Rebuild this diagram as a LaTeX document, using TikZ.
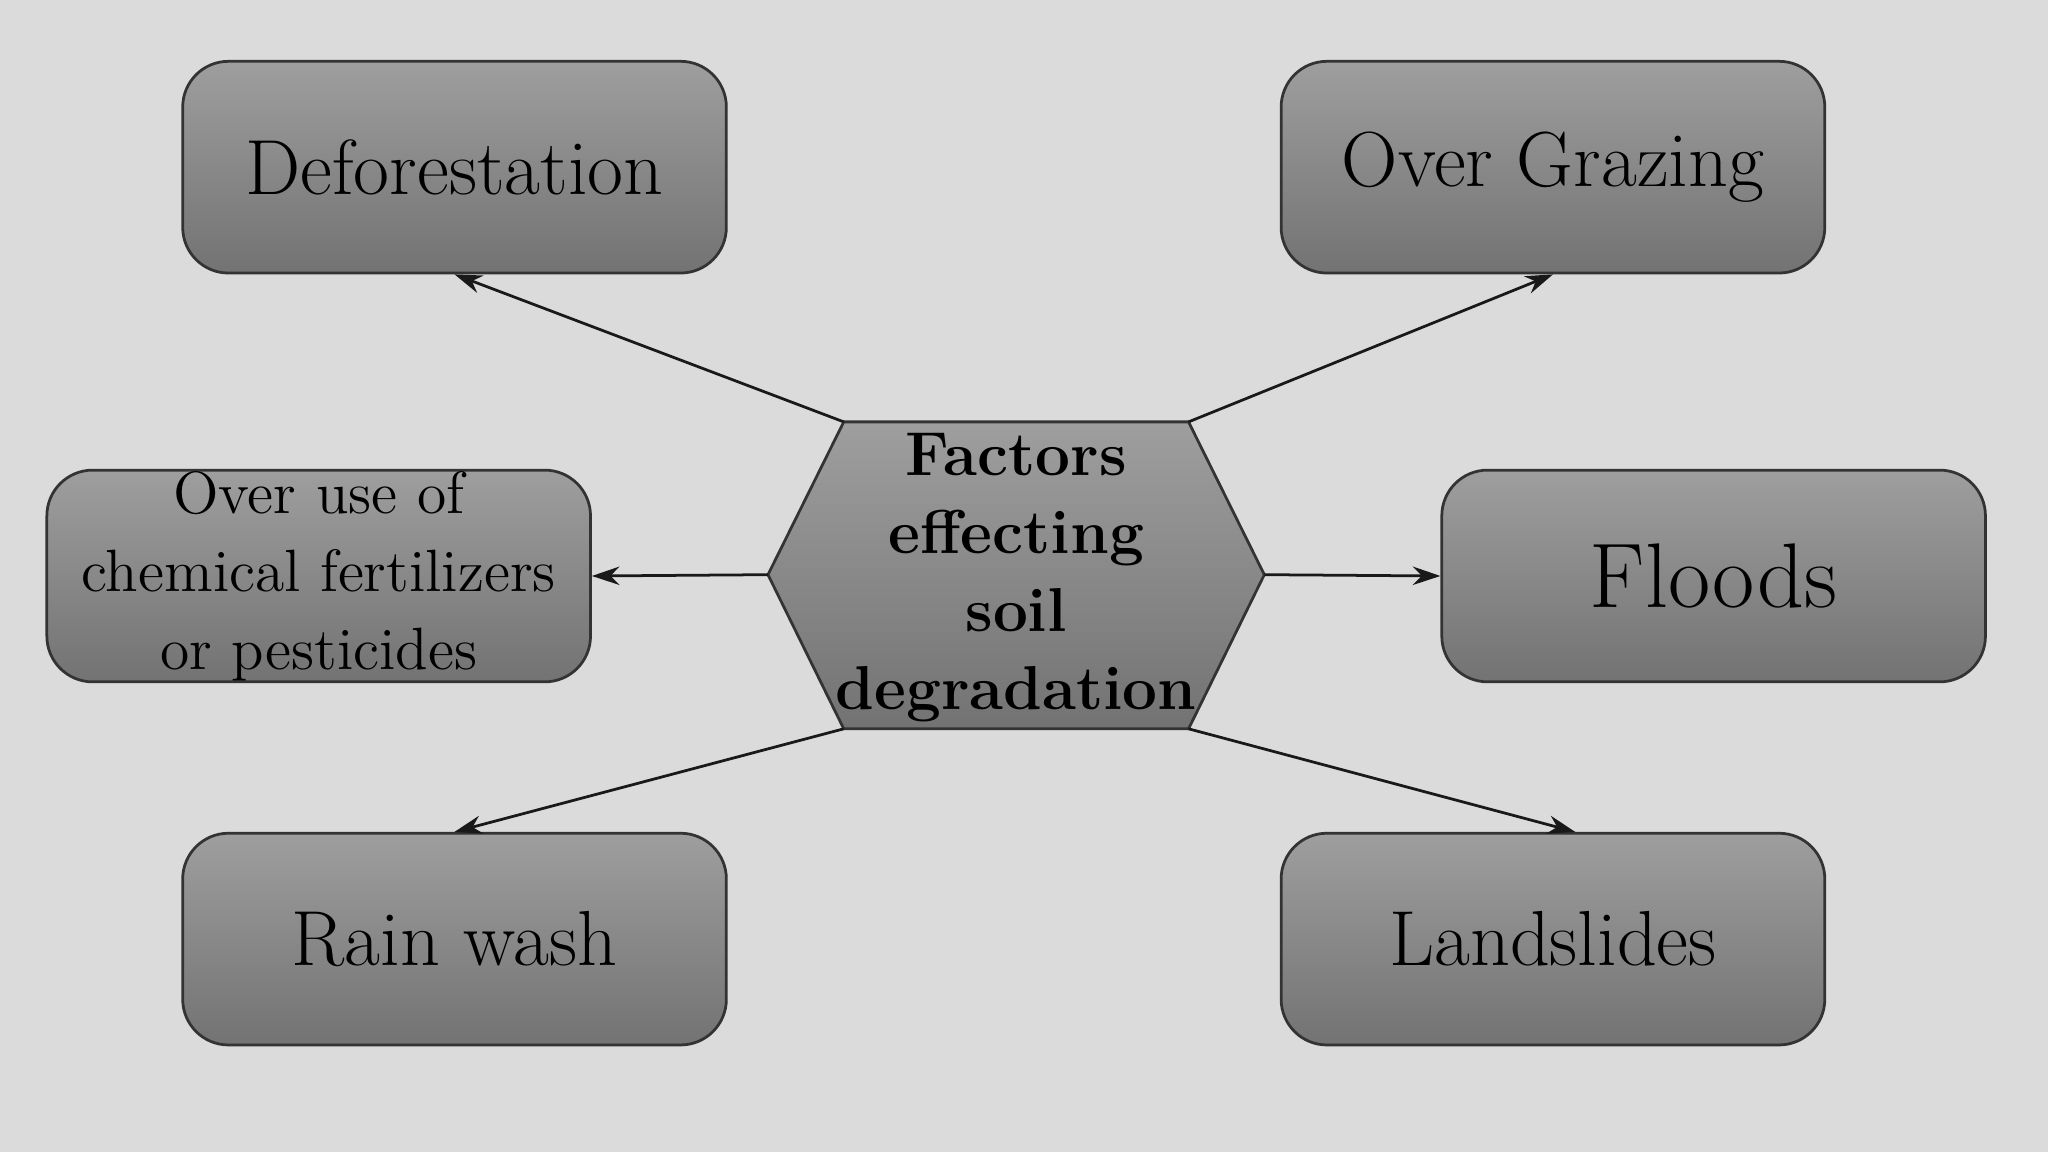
\documentclass[tikz,border=0pt]{standalone}
\usetikzlibrary{arrows.meta}
\begin{document}
\begin{tikzpicture}[x=0.01cm,y=-0.01cm,
  box/.style={draw=black!80,line width=0.6pt,rounded corners=0.35cm,minimum width=4.16cm,minimum height=1.62cm,top color=black!38,bottom color=black!55,align=center,inner sep=0pt},
  con/.style={draw=black!90,line width=0.6pt,-{Stealth[length=6pt,width=4pt]}}]
\fill[black!14] (0,0) rectangle (1568,882);
\useasboundingbox (0,0) rectangle (1568,882);
\node[box,font=\fontsize{17}{20}\selectfont] (def) at (348,128) {Deforestation};
\node[box,font=\fontsize{17}{20}\selectfont] (graz) at (1189,128) {Over Grazing};
\node[box,font=\fontsize{13}{17}\selectfont] (chem) at (244,441) {Over use of\\chemical fertilizers\\or pesticides};
\node[box,font=\fontsize{20}{24}\selectfont] (flood) at (1312,441) {Floods};
\node[box,font=\fontsize{17}{20}\selectfont] (rain) at (348,719) {Rain wash};
\node[box,font=\fontsize{17}{20}\selectfont] (land) at (1189,719) {Landslides};
\coordinate (h1) at (646,323); \coordinate (h2) at (910,323);
\coordinate (h3) at (968,440); \coordinate (h4) at (910,558);
\coordinate (h5) at (646,558); \coordinate (h6) at (588,440);
\path[draw=black!80,line width=0.6pt,top color=black!38,bottom color=black!55] (h1)--(h2)--(h3)--(h4)--(h5)--(h6)--cycle;
\node[align=center,font=\bfseries\fontsize{13.5}{17}\selectfont] (hex) at (778,442) {Factors\\effecting\\soil\\degradation};
\draw[con] (h1) -- (def.south);
\draw[con] (h2) -- (graz.south);
\draw[con] (h6) -- (chem.east);
\draw[con] (h3) -- (flood.west);
\draw[con] (h5) -- (rain.north);
\draw[con] (h4) -- ([xshift=0.17cm]land.north);
\end{tikzpicture}
\end{document}
